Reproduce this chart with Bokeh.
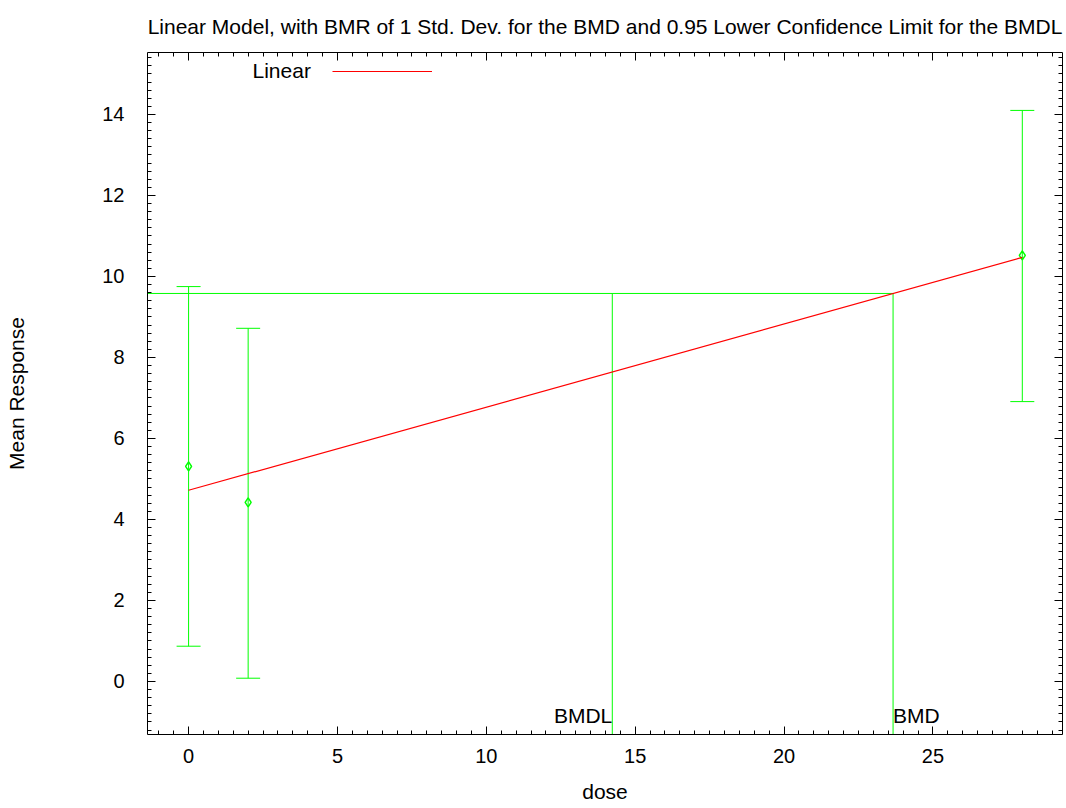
from bokeh.plotting import figure
from bokeh.models import (ColumnDataSource, Whisker, TeeHead, LinearAxis, SingleIntervalTicker,
                          Range1d, Label, Legend, LegendItem, CustomJSTickFormatter)
from bokeh.core.properties import value
from bokeh.embed import file_html
from bokeh.resources import INLINE

# ---- data ----
dose = [0, 2, 28]
mean_resp = [5.31, 4.42, 10.52]
lower_ci = [0.87, 0.08, 6.91]
upper_ci = [9.75, 8.72, 14.10]

fit_x = [0, 28]
fit_y = [4.72, 10.47]

bmr_level = 9.58
bmd = 23.66
bmdl = 14.23

x_limits = [-1.38, 29.35]
y_limits = [-1.31, 15.53]

title_text = "Linear Model, with BMR of 1 Std. Dev. for the BMD and 0.95 Lower Confidence Limit for the BMDL"

FONT = "Liberation Sans"
FS = "21px"
TFS = "20px"
GREEN = "#00ff00"
RED = "#ff0000"

p = figure(width=1063, height=800, output_backend="svg", toolbar_location=None,
           x_range=Range1d(*x_limits), y_range=Range1d(*y_limits),
           frame_width=915, frame_height=682,
           min_border_left=147, min_border_right=1, min_border_top=52, min_border_bottom=66,
           x_axis_location=None, y_axis_location=None)
p.outline_line_color = None
p.xgrid.visible = False
p.ygrid.visible = False

p.title.text = title_text
p.title.text_font = FONT
p.title.text_font_size = "21px"
p.title.text_font_style = "normal"
p.title.text_color = "black"
p.title.align = "center"
p.title.vertical_align = "top"
p.title.standoff = 25


def style_axis(ax, labels=True):
    ax.axis_line_color = "black"
    ax.axis_line_width = 1
    ax.major_tick_in = 8
    ax.major_tick_out = 0
    ax.minor_tick_in = 4
    ax.minor_tick_out = 0
    ax.major_tick_line_color = "black"
    ax.minor_tick_line_color = "black"
    if labels:
        ax.major_label_text_font = FONT
        ax.major_label_text_font_size = TFS
        ax.major_label_text_color = "black"
        ax.axis_label_text_font = FONT
        ax.axis_label_text_font_size = FS
        ax.axis_label_text_font_style = "normal"
        ax.axis_label_text_color = "black"
    else:
        ax.formatter = CustomJSTickFormatter(code="return ''")
        ax.major_label_standoff = 0


xt = lambda: SingleIntervalTicker(interval=5, num_minor_ticks=10)
yt = lambda: SingleIntervalTicker(interval=2, num_minor_ticks=10)

xb = LinearAxis(ticker=xt(), axis_label="dose")
style_axis(xb)
xb.major_label_standoff = 14
xb.axis_label_standoff = 14
p.add_layout(xb, "below")

yl = LinearAxis(ticker=yt(), axis_label="Mean Response")
style_axis(yl)
yl.major_label_standoff = 23
yl.major_label_orientation = "horizontal"
yl.axis_label_standoff = 71
p.add_layout(yl, "left")

xa = LinearAxis(ticker=xt())
style_axis(xa, labels=False)
p.add_layout(xa, "above")

yr = LinearAxis(ticker=yt())
style_axis(yr, labels=False)
p.add_layout(yr, "right")

# ---- BMR / BMD / BMDL guide lines ----
p.segment(x0=[x_limits[0]], y0=[bmr_level], x1=[bmd], y1=[bmr_level], line_color=GREEN, line_width=1)
p.segment(x0=[bmdl, bmd], y0=[y_limits[0]] * 2, x1=[bmdl, bmd], y1=[bmr_level] * 2,
          line_color=GREEN, line_width=1)

p.text(x=[bmdl], y=[y_limits[0]], text=["BMDL"], text_align="right", text_baseline="alphabetic",
       y_offset=-19, text_font=value(FONT), text_font_size=FS, text_color="black")
p.text(x=[bmd], y=[y_limits[0]], text=["BMD"], text_align="left", text_baseline="alphabetic",
       y_offset=-19, text_font=value(FONT), text_font_size=FS, text_color="black")

# ---- error bars ----
src = ColumnDataSource(dict(dose=dose, mean=mean_resp, lower=lower_ci, upper=upper_ci))
wh = Whisker(base="dose", lower="lower", upper="upper", source=src,
             line_color=GREEN, line_width=1,
             upper_head=TeeHead(size=24, line_color=GREEN, line_width=1),
             lower_head=TeeHead(size=24, line_color=GREEN, line_width=1))
p.add_layout(wh)
p.scatter(x="dose", y="mean", source=src, marker="diamond", size=9,
          fill_color=None, line_color=GREEN, line_width=1.5)

# ---- fitted model ----
fit = p.line(x=fit_x, y=fit_y, line_color=RED, line_width=1.2)

# ---- legend ----
leg = Legend(items=[LegendItem(label=" ", renderers=[fit])], location=(185, 658),
             padding=0, margin=0, spacing=0, glyph_width=100, glyph_height=10,
             label_height=10, label_width=0, label_standoff=0, label_text_font_size="1px",
             border_line_color=None, background_fill_alpha=0)
p.add_layout(leg, "center")
p.add_layout(Label(x=105, y=664, x_units="screen", y_units="screen", text="Linear",
                   text_font=FONT, text_font_size=FS, text_baseline="middle", text_color="black"))

open("out.html", "w").write(file_html(p, INLINE))
